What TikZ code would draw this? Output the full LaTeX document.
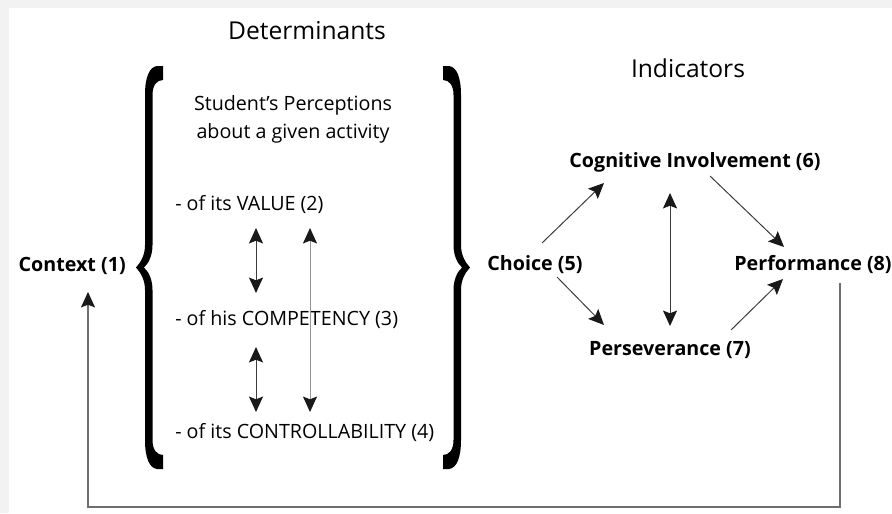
\documentclass[tikz,border=0pt]{standalone}
\usepackage{fontspec}
\setmainfont{Open Sans}
\usetikzlibrary{arrows.meta}
\usetikzlibrary{calc}
\definecolor{bggray}{RGB}{242,242,242}
\definecolor{linedark}{RGB}{60,60,60}
\definecolor{linegray}{RGB}{150,150,150}
\definecolor{loopgray}{RGB}{110,110,110}
\tikzset{
    >={Stealth[length=11pt,width=10pt,inset=2pt,color=black!90]},
    ttl/.style = {inner sep=0pt, anchor=base, font=\fontsize{17.5}{21}\selectfont},
    txt/.style = {inner sep=0pt, anchor=base west, font=\fontsize{14}{17}\selectfont},
    ind/.style = {inner sep=0pt, anchor=base, font=\bfseries\fontsize{14}{17}\selectfont},
    edgen/.style = {->, line width=0.7pt, linedark},
    edged/.style = {<->, line width=0.7pt, linedark},
    edgeg/.style = {<->, line width=0.7pt, linegray},
    edgel/.style = {->, line width=0.8pt, loopgray},
    brace/.style = {fill=black},
}
% left curly brace, pixel units, y downwards
\newcommand{\bracepath}{(163,66) -- (157,66) .. controls (149,67) and (145,78) .. (145,95)
  -- (145,245) .. controls (145,255) and (141,262) .. (136,267.5)
  .. controls (141,273) and (145,280) .. (145,290)
  -- (145,440) .. controls (145,457) and (149,468) .. (157,469) -- (163,469)
  -- (163,455) .. controls (157,455) and (152.5,450) .. (152.5,440)
  -- (152.5,290) .. controls (152.5,280) and (149,272) .. (144,267.5)
  .. controls (149,263) and (152.5,255) .. (152.5,245)
  -- (152.5,95) .. controls (152.5,85) and (157,80) .. (163,80) -- cycle}

\begin{document}
\begin{tikzpicture}[x=0.025cm,y=-0.025cm]
%
\useasboundingbox (0,0) rectangle (892,513);
\fill[bggray] (0,0) rectangle (892,513);
\fill[white] (9,8) rectangle (892,513);
%
\node[ttl] (det) at (307,39) {Determinants};
\node[ttl] (indic) at (688,77) {Indicators};
%
\fill[brace] \bracepath;
\begin{scope}[shift={(606,0)},xscale=-1]
\fill[brace] \bracepath;
\end{scope}
%
\node[ind, anchor=base east] (ctx) at (126,271) {Context (1)};
\node[align=center, inner sep=0pt, font=\fontsize{14}{20}\selectfont] (perc) at (293,119) {Student’s Perceptions\\about a given activity};
\node[txt] (val) at (175,210) {- of its VALUE (2)};
\node[txt] (comp) at (175,325) {- of his COMPETENCY (3)};
\node[txt] (ctrl) at (175,438) {- of its CONTROLLABILITY (4)};
%
\node[ind] (choice) at (535,270) {Choice (5)};
\node[ind] (cog) at (695,167) {Cognitive Involvement (6)};
\node[ind] (pers) at (670,355) {Perseverance (7)};
\node[ind] (perf) at (813,270) {Performance (8)};
%
\draw[edged] ($(val.base west)+(81,18)$) -- ($(comp.base west)+(81,-32)$);
\draw[edgeg] ($(val.base west)+(135,18)$) -- ($(ctrl.base west)+(135,-26)$);
\draw[edged] ($(comp.base west)+(81,22)$) -- ($(ctrl.base west)+(81,-26)$);
%
\draw[edgen] ($(choice.base)+(7,-27)$) -- ($(cog.base)+(-91,16)$);
\draw[edgen] ($(choice.base)+(22,7)$) -- ($(pers.base)+(-66,-30)$);
\draw[edgen] ($(cog.base)+(15,9)$) -- ($(perf.base)+(-29,-23)$);
\draw[edgen] ($(pers.base)+(61,-25)$) -- ($(perf.base)+(-30,9)$);
\draw[edged] ($(cog.base)+(-25,26)$) -- ($(pers.base)+(0,-29)$);
%
\coordinate (loopr) at (840,507);
\coordinate (loopl) at (88,507);
\draw[edgel] ($(perf.base)+(27,13)$) -- (loopr) -- (loopl) -- ($(ctx.base east)+(-38,21)$);

\end{tikzpicture}
\end{document}
